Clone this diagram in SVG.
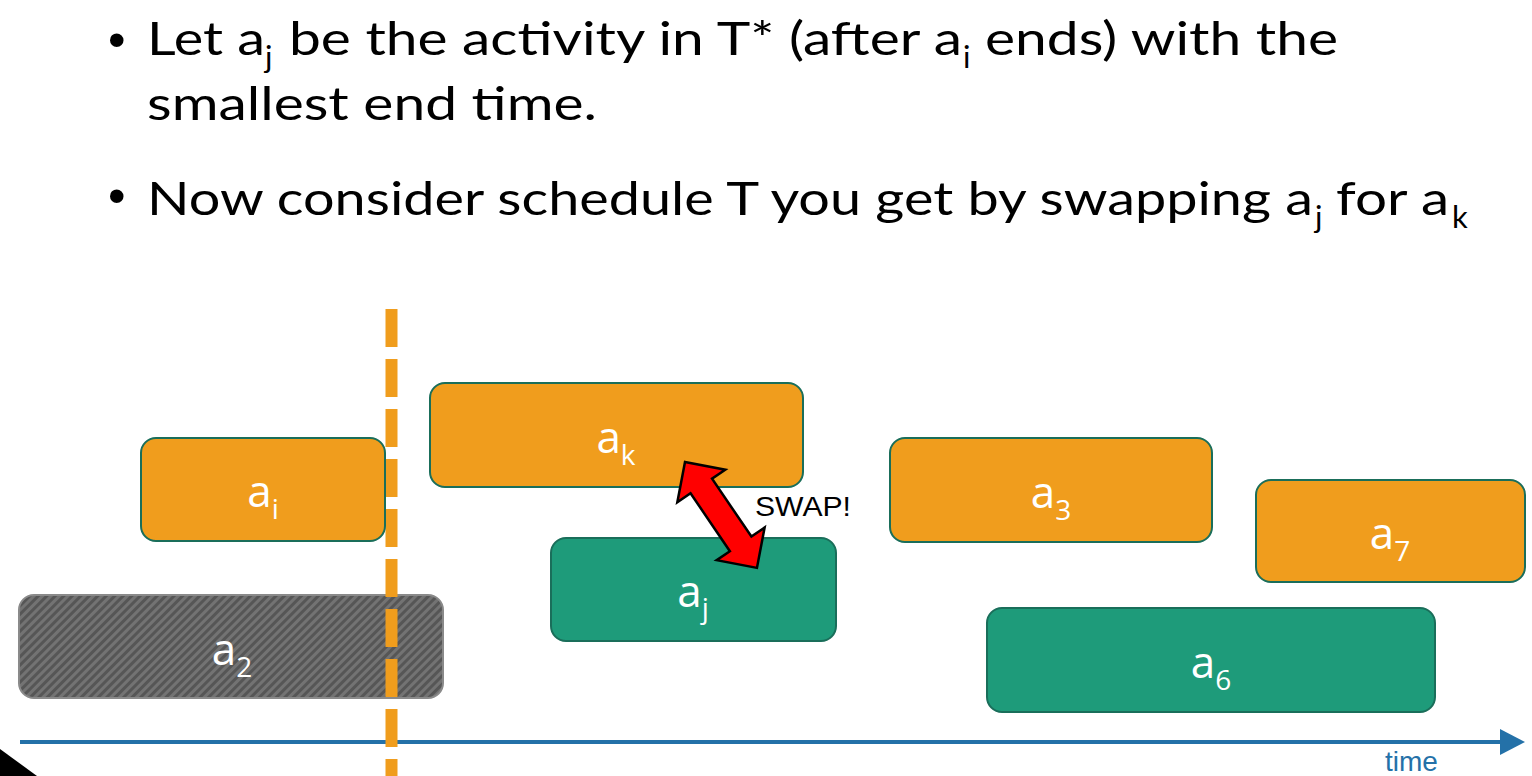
<svg xmlns="http://www.w3.org/2000/svg" width="1532" height="776" viewBox="0 0 1532 776">
  <style>
    .body { font-family: Lato, "Open Sans", sans-serif; font-size: 47px; fill: #000; }
    .sub { font-family: Lato, "Open Sans", sans-serif; font-size: 31px; fill: #000; }
    .bullet { font-family: "Liberation Sans", Arial, sans-serif; font-size: 50px; fill: #000; }
    .act { stroke: #1a6e5a; stroke-width: 2; }
    .orange { fill: #f09d1d; }
    .green { fill: #1e9b7a; }
    .lbl { font-family: "Open Sans", "Noto Sans", sans-serif; font-size: 44px; fill: #fff; text-anchor: middle; }
    .lbl tspan.s { font-size: 28px; }
  </style>
  <defs>
    <pattern id="hatch" width="6" height="6" patternUnits="userSpaceOnUse" patternTransform="rotate(45)">
      <rect width="6" height="6" fill="#565656"/>
      <rect width="3" height="6" fill="#737373"/>
    </pattern>
  </defs>

  <rect width="1532" height="776" fill="#fff"/>

  <!-- bullet text -->
  <g id="bullets">
    <text class="bullet" x="108" y="57">•</text>
    <text class="body" x="147" y="55" textLength="118" lengthAdjust="spacingAndGlyphs">Let a</text>
    <text class="sub" x="265" y="68">j</text>
    <text class="body" x="289" y="55" textLength="673" lengthAdjust="spacingAndGlyphs">be the activity in T* (after a</text>
    <text class="sub" x="963" y="68">i</text>
    <text class="body" x="985" y="55" textLength="353" lengthAdjust="spacingAndGlyphs">ends) with the</text>
    <text class="body" x="147" y="120" textLength="450" lengthAdjust="spacingAndGlyphs">smallest end time.</text>

    <text class="bullet" x="108" y="213">•</text>
    <text class="body" x="147" y="215" textLength="1166" lengthAdjust="spacingAndGlyphs">Now consider schedule T you get by swapping a</text>
    <text class="sub" x="1315" y="228">j</text>
    <text class="body" x="1336" y="215" textLength="113" lengthAdjust="spacingAndGlyphs">for a</text>
    <text class="sub" x="1452" y="228">k</text>
  </g>

  <!-- time axis -->
  <g id="axis">
    <line x1="20" y1="742" x2="1502" y2="742" stroke="#2471a8" stroke-width="4"/>
    <polygon points="1500,729 1525,742 1500,755" fill="#2471a8"/>
    <text x="1385" y="771" font-family="'Liberation Sans', Arial, sans-serif" font-size="28" fill="#2471a8">time</text>
  </g>

  <polygon points="0,749 37,776 0,776" fill="#000"/>

  <!-- completed activity a2 -->
  <g id="a2">
    <rect x="19" y="595" width="424" height="103" rx="15" fill="url(#hatch)" stroke="#8a8a8a" stroke-width="2"/>
    <text class="lbl" x="232" y="665">a<tspan class="s" dy="12">2</tspan></text>
  </g>

  <!-- end of a_i -->
  <line id="cutoff" x1="391.5" y1="309" x2="391.5" y2="776" stroke="#f09d1d" stroke-width="12" stroke-dasharray="38 12"/>

  <g id="ai">
    <rect class="act orange" x="141" y="438" width="244" height="103" rx="15"/>
    <text class="lbl" x="263" y="507">a<tspan class="s" dy="12">i</tspan></text>
  </g>
  <g id="ak">
    <rect class="act orange" x="430" y="383" width="373" height="104" rx="15"/>
    <text class="lbl" x="616" y="453">a<tspan class="s" dy="12">k</tspan></text>
  </g>
  <g id="aj">
    <rect class="act green" x="551" y="538" width="285" height="103" rx="15"/>
    <text class="lbl" x="693" y="607">a<tspan class="s" dy="11">j</tspan></text>
  </g>
  <g id="a3">
    <rect class="act orange" x="890" y="438" width="322" height="104" rx="15"/>
    <text class="lbl" x="1051" y="508">a<tspan class="s" dy="12">3</tspan></text>
  </g>
  <g id="a7">
    <rect class="act orange" x="1256" y="480" width="269" height="102" rx="15"/>
    <text class="lbl" x="1390" y="549">a<tspan class="s" dy="12">7</tspan></text>
  </g>
  <g id="a6">
    <rect class="act green" x="987" y="608" width="448" height="104" rx="15"/>
    <text class="lbl" x="1211" y="678">a<tspan class="s" dy="12">6</tspan></text>
  </g>

  <!-- swap connector -->
  <g id="connectors">
    <polygon points="0,0 29,-29 29,-13 99,-13 99,-29 128,0 99,29 99,13 29,13 29,29"
             transform="translate(685,462) rotate(55.8)" fill="#ff0000" stroke="#000" stroke-width="2.5" stroke-linejoin="miter"/>
    <text x="755" y="516" font-family="'Liberation Sans', Arial, sans-serif" font-size="28" textLength="96" lengthAdjust="spacingAndGlyphs" fill="#000">SWAP!</text>
  </g>
</svg>
